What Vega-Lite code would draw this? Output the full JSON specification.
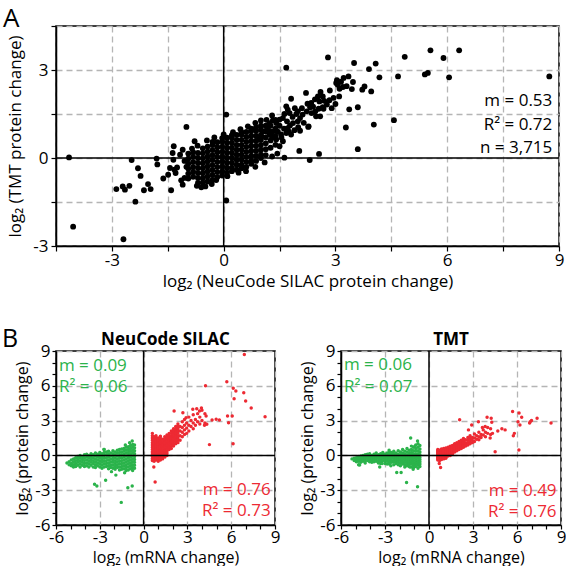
{
"$schema":"https://vega.github.io/schema/vega-lite/v6.json",
"background":"white",
"padding":{"left":2,"top":5,"right":0,"bottom":0},
"config":{
 "font":"Open Sans",
 "view":{"stroke":"black","strokeWidth":1.5},
 "axis":{"domainColor":"black","domainWidth":1.5,"tickColor":"black","tickWidth":1.2,"tickSize":4,"labelColor":"black","titleColor":"black","titleFontWeight":"normal","gridColor":"#b5b5b5","gridDash":[6,4],"gridWidth":1.3,"labelOverlap":false,"labelFlush":false},
 "title":{"color":"black"}
},
"datasets":{
"prot":[
{"silac":-4.15,"tmt":0.02},{"silac":-4.04,"tmt":-2.34},{"silac":-2.69,"tmt":-2.77},{"silac":-2.88,"tmt":-1.06},{"silac":-2.71,"tmt":-0.97},{"silac":-2.65,"tmt":-1.08},{"silac":-2.53,"tmt":-0.95},{"silac":-2.47,"tmt":-0.07},{"silac":-2.37,"tmt":-1.49},{"silac":-2.3,"tmt":-0.35},{"silac":-2.23,"tmt":-0.61},{"silac":-2.14,"tmt":-1.1},{"silac":-2.03,"tmt":-0.89},{"silac":-1.96,"tmt":-1.06},{"silac":-1.8,"tmt":-0.02},{"silac":-1.78,"tmt":-0.22},{"silac":-1.62,"tmt":-0.7},{"silac":-1.49,"tmt":-0.57},{"silac":-1.41,"tmt":-1.1},{"silac":-1.34,"tmt":0.4},{"silac":-1.37,"tmt":0.17},{"silac":-1.0,"tmt":1.06},{"silac":-0.78,"tmt":0.57},{"silac":0.07,"tmt":1.48},{"silac":0.07,"tmt":-1.45},{"silac":-0.49,"tmt":-0.97},{"silac":-0.32,"tmt":-0.89},
{"silac":-1.25,"tmt":-0.32},{"silac":-1.29,"tmt":-0.51},{"silac":-1.14,"tmt":-0.76},{"silac":-1.1,"tmt":-0.91},{"silac":-1.05,"tmt":-0.68},{"silac":-1.32,"tmt":-0.4},{"silac":-1.1,"tmt":0.28},{"silac":-1.17,"tmt":0.11},{"silac":-1.35,"tmt":-0.06},{"silac":-1.44,"tmt":-0.34},{"silac":-0.72,"tmt":-0.95},{"silac":-0.6,"tmt":-1.0},{"silac":-0.2,"tmt":-0.75},{"silac":0.1,"tmt":-0.62},{"silac":0.4,"tmt":-0.5},{"silac":-1.0,"tmt":-0.3},{"silac":-1.05,"tmt":-0.1},{"silac":-0.95,"tmt":0.15},{"silac":-0.85,"tmt":0.32},{"silac":-0.7,"tmt":0.42},{"silac":-0.45,"tmt":0.6},{"silac":-0.25,"tmt":0.7},{"silac":0.0,"tmt":0.8},{"silac":0.25,"tmt":0.88},{"silac":0.45,"tmt":0.98},{"silac":0.65,"tmt":1.08},{"silac":0.85,"tmt":1.2},{"silac":1.0,"tmt":1.28},{"silac":0.6,"tmt":-0.45},{"silac":0.85,"tmt":-0.3},{"silac":1.1,"tmt":-0.15},{"silac":1.3,"tmt":0.05},
{"silac":-0.95,"tmt":-0.7},{"silac":-0.95,"tmt":-0.53},{"silac":-0.95,"tmt":-0.36},{"silac":-0.95,"tmt":-0.19},{"silac":-0.95,"tmt":-0.02},
{"silac":-0.82,"tmt":-0.64},{"silac":-0.82,"tmt":-0.47},{"silac":-0.82,"tmt":-0.3},{"silac":-0.82,"tmt":-0.13},{"silac":-0.82,"tmt":0.04},{"silac":-0.82,"tmt":0.2},
{"silac":-0.69,"tmt":-0.85},{"silac":-0.69,"tmt":-0.68},{"silac":-0.69,"tmt":-0.51},{"silac":-0.69,"tmt":-0.34},{"silac":-0.69,"tmt":-0.17},{"silac":-0.69,"tmt":0.0},{"silac":-0.69,"tmt":0.17},
{"silac":-0.56,"tmt":-0.84},{"silac":-0.56,"tmt":-0.69},{"silac":-0.56,"tmt":-0.52},{"silac":-0.56,"tmt":-0.35},{"silac":-0.56,"tmt":-0.18},{"silac":-0.56,"tmt":-0.01},{"silac":-0.56,"tmt":0.16},{"silac":-0.56,"tmt":0.33},
{"silac":-0.43,"tmt":-0.8},{"silac":-0.43,"tmt":-0.63},{"silac":-0.43,"tmt":-0.46},{"silac":-0.43,"tmt":-0.29},{"silac":-0.43,"tmt":-0.12},{"silac":-0.43,"tmt":0.05},{"silac":-0.43,"tmt":0.22},{"silac":-0.43,"tmt":0.39},
{"silac":-0.3,"tmt":-0.75},{"silac":-0.3,"tmt":-0.58},{"silac":-0.3,"tmt":-0.41},{"silac":-0.3,"tmt":-0.24},{"silac":-0.3,"tmt":-0.07},{"silac":-0.3,"tmt":0.1},{"silac":-0.3,"tmt":0.27},{"silac":-0.3,"tmt":0.44},{"silac":-0.3,"tmt":0.55},
{"silac":-0.17,"tmt":-0.65},{"silac":-0.17,"tmt":-0.48},{"silac":-0.17,"tmt":-0.31},{"silac":-0.17,"tmt":-0.14},{"silac":-0.17,"tmt":0.03},{"silac":-0.17,"tmt":0.2},{"silac":-0.17,"tmt":0.37},{"silac":-0.17,"tmt":0.54},
{"silac":-0.04,"tmt":-0.6},{"silac":-0.04,"tmt":-0.46},{"silac":-0.04,"tmt":-0.29},{"silac":-0.04,"tmt":-0.12},{"silac":-0.04,"tmt":0.05},{"silac":-0.04,"tmt":0.22},{"silac":-0.04,"tmt":0.39},{"silac":-0.04,"tmt":0.56},{"silac":-0.04,"tmt":0.68},
{"silac":0.09,"tmt":-0.5},{"silac":0.09,"tmt":-0.33},{"silac":0.09,"tmt":-0.16},{"silac":0.09,"tmt":0.01},{"silac":0.09,"tmt":0.18},{"silac":0.09,"tmt":0.35},{"silac":0.09,"tmt":0.52},{"silac":0.09,"tmt":0.69},
{"silac":0.22,"tmt":-0.45},{"silac":0.22,"tmt":-0.33},{"silac":0.22,"tmt":-0.16},{"silac":0.22,"tmt":0.01},{"silac":0.22,"tmt":0.18},{"silac":0.22,"tmt":0.35},{"silac":0.22,"tmt":0.52},{"silac":0.22,"tmt":0.69},{"silac":0.22,"tmt":0.78},
{"silac":0.35,"tmt":-0.4},{"silac":0.35,"tmt":-0.23},{"silac":0.35,"tmt":-0.06},{"silac":0.35,"tmt":0.11},{"silac":0.35,"tmt":0.28},{"silac":0.35,"tmt":0.45},{"silac":0.35,"tmt":0.62},{"silac":0.35,"tmt":0.79},
{"silac":0.48,"tmt":-0.35},{"silac":0.48,"tmt":-0.23},{"silac":0.48,"tmt":-0.06},{"silac":0.48,"tmt":0.11},{"silac":0.48,"tmt":0.28},{"silac":0.48,"tmt":0.45},{"silac":0.48,"tmt":0.62},{"silac":0.48,"tmt":0.79},{"silac":0.48,"tmt":0.88},
{"silac":0.61,"tmt":-0.3},{"silac":0.61,"tmt":-0.13},{"silac":0.61,"tmt":0.04},{"silac":0.61,"tmt":0.21},{"silac":0.61,"tmt":0.38},{"silac":0.61,"tmt":0.55},{"silac":0.61,"tmt":0.72},{"silac":0.61,"tmt":0.89},
{"silac":0.74,"tmt":-0.2},{"silac":0.74,"tmt":-0.09},{"silac":0.74,"tmt":0.08},{"silac":0.74,"tmt":0.25},{"silac":0.74,"tmt":0.42},{"silac":0.74,"tmt":0.59},{"silac":0.74,"tmt":0.76},{"silac":0.74,"tmt":0.93},{"silac":0.74,"tmt":1.0},
{"silac":0.87,"tmt":-0.1},{"silac":0.87,"tmt":0.07},{"silac":0.87,"tmt":0.24},{"silac":0.87,"tmt":0.41},{"silac":0.87,"tmt":0.58},{"silac":0.87,"tmt":0.75},{"silac":0.87,"tmt":0.92},{"silac":0.87,"tmt":1.05},
{"silac":1.0,"tmt":0.0},{"silac":1.0,"tmt":0.11},{"silac":1.0,"tmt":0.28},{"silac":1.0,"tmt":0.45},{"silac":1.0,"tmt":0.62},{"silac":1.0,"tmt":0.79},{"silac":1.0,"tmt":0.96},{"silac":1.0,"tmt":1.1},
{"silac":1.13,"tmt":0.1},{"silac":1.13,"tmt":0.3},{"silac":1.13,"tmt":0.5},{"silac":1.13,"tmt":0.7},{"silac":1.13,"tmt":0.9},{"silac":1.13,"tmt":1.1},
{"silac":1.26,"tmt":0.35},{"silac":1.26,"tmt":0.6},{"silac":1.26,"tmt":0.85},{"silac":1.26,"tmt":1.1},
{"silac":1.39,"tmt":0.45},{"silac":1.39,"tmt":0.75},{"silac":1.39,"tmt":1.0},{"silac":1.39,"tmt":1.3},
{"silac":3.35,"tmt":2.78},{"silac":3.22,"tmt":2.73},{"silac":3.04,"tmt":2.65},{"silac":3.06,"tmt":2.5},{"silac":3.2,"tmt":2.42},{"silac":3.11,"tmt":2.36},{"silac":3.47,"tmt":2.59},{"silac":3.44,"tmt":2.35},{"silac":3.37,"tmt":1.66},{"silac":3.6,"tmt":1.73},{"silac":3.78,"tmt":2.44},{"silac":3.72,"tmt":2.33},{"silac":3.96,"tmt":2.27},{"silac":2.95,"tmt":2.05},{"silac":3.0,"tmt":1.84},{"silac":2.77,"tmt":1.82},{"silac":2.84,"tmt":1.97},{"silac":2.66,"tmt":2.1},{"silac":2.57,"tmt":1.93},{"silac":2.66,"tmt":1.73},{"silac":2.55,"tmt":1.68},{"silac":2.46,"tmt":1.59},{"silac":2.32,"tmt":1.73},{"silac":2.21,"tmt":2.22},{"silac":2.48,"tmt":1.42},{"silac":2.36,"tmt":1.53},{"silac":2.23,"tmt":1.59},{"silac":2.12,"tmt":1.48},{"silac":2.05,"tmt":1.36},{"silac":1.99,"tmt":1.25},{"silac":2.05,"tmt":0.93},{"silac":1.81,"tmt":2.02},{"silac":1.68,"tmt":1.76},{"silac":1.72,"tmt":1.65},{"silac":1.63,"tmt":1.5},{"silac":1.59,"tmt":1.36},{"silac":1.5,"tmt":1.31},{"silac":1.41,"tmt":1.19},{"silac":1.32,"tmt":1.28},{"silac":1.23,"tmt":1.19},{"silac":1.14,"tmt":1.08},{"silac":1.99,"tmt":1.59},{"silac":1.91,"tmt":1.7},{"silac":1.77,"tmt":1.53},{"silac":1.86,"tmt":1.19},{"silac":1.78,"tmt":1.11},{"silac":1.72,"tmt":1.02},{"silac":1.68,"tmt":0.85},{"silac":1.81,"tmt":0.8},{"silac":1.54,"tmt":0.8},{"silac":1.5,"tmt":0.4},{"silac":1.59,"tmt":0.57},{"silac":1.41,"tmt":0.63},{"silac":1.32,"tmt":0.91},{"silac":1.23,"tmt":0.8},{"silac":1.05,"tmt":0.91},{"silac":1.01,"tmt":0.74},{"silac":0.92,"tmt":0.63},{"silac":2.28,"tmt":1.08},{"silac":2.59,"tmt":1.42},{"silac":2.68,"tmt":1.68},{"silac":2.35,"tmt":1.88},{"silac":2.53,"tmt":2.1},{"silac":3.02,"tmt":2.56},
{"silac":1.2,"tmt":0.95},{"silac":1.3,"tmt":0.7},{"silac":1.45,"tmt":0.9},{"silac":1.5,"tmt":1.1},{"silac":1.55,"tmt":0.7},{"silac":1.62,"tmt":1.0},{"silac":1.7,"tmt":1.25},{"silac":1.75,"tmt":0.9},{"silac":1.85,"tmt":1.4},{"silac":1.9,"tmt":0.95},{"silac":1.95,"tmt":1.5},{"silac":2.1,"tmt":1.7},{"silac":2.15,"tmt":1.2},{"silac":2.25,"tmt":1.85},{"silac":2.4,"tmt":1.75},{"silac":2.45,"tmt":2.0},{"silac":2.6,"tmt":2.25},{"silac":2.7,"tmt":1.95},{"silac":2.85,"tmt":2.3},{"silac":2.9,"tmt":1.7},{"silac":3.1,"tmt":2.1},{"silac":3.15,"tmt":2.6},{"silac":3.3,"tmt":2.45},{"silac":2.0,"tmt":1.05},{"silac":1.3,"tmt":1.45},{"silac":1.15,"tmt":1.3},
{"silac":1.68,"tmt":3.08},{"silac":2.8,"tmt":3.43},{"silac":3.5,"tmt":3.24},{"silac":3.9,"tmt":3.03},{"silac":4.08,"tmt":3.22},{"silac":4.18,"tmt":2.75},{"silac":4.68,"tmt":2.78},{"silac":4.86,"tmt":3.45},{"silac":5.4,"tmt":2.85},{"silac":5.48,"tmt":2.9},{"silac":5.55,"tmt":3.67},{"silac":5.9,"tmt":3.41},{"silac":6.05,"tmt":2.75},{"silac":6.32,"tmt":3.67},{"silac":8.74,"tmt":2.78},{"silac":4.57,"tmt":1.29},{"silac":4.03,"tmt":1.14},{"silac":3.28,"tmt":1.04},{"silac":3.6,"tmt":0.3},{"silac":2.56,"tmt":0.14},{"silac":2.31,"tmt":-0.07},{"silac":2.03,"tmt":0.24},{"silac":1.63,"tmt":0.01},{"silac":2.27,"tmt":1.06},{"silac":1.44,"tmt":0.15}
],
"annA":[{"label":"m = 0.53","ax":8.82,"ay":1.93},{"label":"R² = 0.72","ax":8.82,"ay":1.11},{"label":"n = 3,715","ax":8.82,"ay":0.35}],
"annB":[
{"panel":"NeuCode SILAC","g":"down","label":"m = 0.09","ax":-5.8,"ay":7.7},{"panel":"NeuCode SILAC","g":"down","label":"R² = 0.06","ax":-5.8,"ay":5.9},{"panel":"NeuCode SILAC","g":"up","label":"m = 0.76","ax":8.7,"ay":-3.0},{"panel":"NeuCode SILAC","g":"up","label":"R² = 0.73","ax":8.7,"ay":-4.8},
{"panel":"TMT","g":"down","label":"m = 0.06","ax":-5.8,"ay":7.76},{"panel":"TMT","g":"down","label":"R² = 0.07","ax":-5.8,"ay":5.88},{"panel":"TMT","g":"up","label":"m = 0.49","ax":8.7,"ay":-3.06},{"panel":"TMT","g":"up","label":"R² = 0.76","ax":8.7,"ay":-4.85}
],
"genes":[
{"g":"down","mrna":-5.25,"silac":-0.65,"tmt":-0.3},
{"g":"down","mrna":-5.1,"silac":-0.55,"tmt":-0.25},{"g":"down","mrna":-5.1,"silac":-0.8,"tmt":-0.45},
{"g":"down","mrna":-4.95,"silac":-0.4,"tmt":-0.2},{"g":"down","mrna":-4.95,"silac":-0.7,"tmt":-0.4},{"g":"down","mrna":-4.95,"silac":-0.9,"tmt":-0.55},
{"g":"down","mrna":-4.8,"silac":-0.3,"tmt":-0.1},{"g":"down","mrna":-4.8,"silac":-0.55,"tmt":-0.3},{"g":"down","mrna":-4.8,"silac":-0.8,"tmt":-0.5},{"g":"down","mrna":-4.8,"silac":-1.0,"tmt":-0.8},
{"g":"down","mrna":-4.65,"silac":-0.2,"tmt":-0.05},{"g":"down","mrna":-4.65,"silac":-0.45,"tmt":-0.25},{"g":"down","mrna":-4.65,"silac":-0.7,"tmt":-0.4},{"g":"down","mrna":-4.65,"silac":-0.95,"tmt":-0.6},
{"g":"down","mrna":-4.5,"silac":-0.1,"tmt":0.0},{"g":"down","mrna":-4.5,"silac":-0.35,"tmt":-0.2},{"g":"down","mrna":-4.5,"silac":-0.6,"tmt":-0.35},{"g":"down","mrna":-4.5,"silac":-0.85,"tmt":-0.5},
{"g":"down","mrna":-4.35,"silac":0.0,"tmt":0.05},{"g":"down","mrna":-4.35,"silac":-0.25,"tmt":-0.1},{"g":"down","mrna":-4.35,"silac":-0.5,"tmt":-0.3},{"g":"down","mrna":-4.35,"silac":-0.75,"tmt":-0.45},{"g":"down","mrna":-4.35,"silac":-1.0,"tmt":-0.65},
{"g":"down","mrna":-4.2,"silac":-0.1,"tmt":0.1},{"g":"down","mrna":-4.2,"silac":-0.35,"tmt":-0.05},{"g":"down","mrna":-4.2,"silac":-0.6,"tmt":-0.25},{"g":"down","mrna":-4.2,"silac":-0.85,"tmt":-0.45},
{"g":"down","mrna":-4.05,"silac":0.05,"tmt":0.15},{"g":"down","mrna":-4.05,"silac":-0.2,"tmt":-0.05},{"g":"down","mrna":-4.05,"silac":-0.45,"tmt":-0.2},{"g":"down","mrna":-4.05,"silac":-0.7,"tmt":-0.35},{"g":"down","mrna":-4.05,"silac":-0.95,"tmt":-0.55},
{"g":"down","mrna":-3.9,"silac":0.1,"tmt":0.0},{"g":"down","mrna":-3.9,"silac":-0.15,"tmt":-0.15},{"g":"down","mrna":-3.9,"silac":-0.4,"tmt":-0.3},{"g":"down","mrna":-3.9,"silac":-0.65,"tmt":-0.45},{"g":"down","mrna":-3.9,"silac":-0.9,"tmt":-0.6},
{"g":"down","mrna":-3.75,"silac":0.0,"tmt":0.1},{"g":"down","mrna":-3.75,"silac":-0.25,"tmt":-0.05},{"g":"down","mrna":-3.75,"silac":-0.5,"tmt":-0.2},{"g":"down","mrna":-3.75,"silac":-0.75,"tmt":-0.4},{"g":"down","mrna":-3.75,"silac":-1.0,"tmt":-0.55},
{"g":"down","mrna":-3.6,"silac":0.15,"tmt":0.2},{"g":"down","mrna":-3.6,"silac":-0.1,"tmt":0.0},{"g":"down","mrna":-3.6,"silac":-0.35,"tmt":-0.15},{"g":"down","mrna":-3.6,"silac":-0.6,"tmt":-0.3},{"g":"down","mrna":-3.6,"silac":-0.85,"tmt":-0.5},
{"g":"down","mrna":-3.45,"silac":0.05,"tmt":0.05},{"g":"down","mrna":-3.45,"silac":-0.2,"tmt":-0.1},{"g":"down","mrna":-3.45,"silac":-0.45,"tmt":-0.25},{"g":"down","mrna":-3.45,"silac":-0.7,"tmt":-0.45},{"g":"down","mrna":-3.45,"silac":-1.0,"tmt":-0.65},
{"g":"down","mrna":-3.3,"silac":0.2,"tmt":0.15},{"g":"down","mrna":-3.3,"silac":-0.05,"tmt":0.0},{"g":"down","mrna":-3.3,"silac":-0.3,"tmt":-0.15},{"g":"down","mrna":-3.3,"silac":-0.55,"tmt":-0.3},{"g":"down","mrna":-3.3,"silac":-0.8,"tmt":-0.5},{"g":"down","mrna":-3.3,"silac":-1.05,"tmt":-0.7},
{"g":"down","mrna":-3.15,"silac":0.1,"tmt":0.25},{"g":"down","mrna":-3.15,"silac":-0.15,"tmt":0.05},{"g":"down","mrna":-3.15,"silac":-0.4,"tmt":-0.1},{"g":"down","mrna":-3.15,"silac":-0.65,"tmt":-0.25},{"g":"down","mrna":-3.15,"silac":-0.9,"tmt":-0.45},
{"g":"down","mrna":-3.0,"silac":0.25,"tmt":0.1},{"g":"down","mrna":-3.0,"silac":0.0,"tmt":-0.05},{"g":"down","mrna":-3.0,"silac":-0.25,"tmt":-0.2},{"g":"down","mrna":-3.0,"silac":-0.5,"tmt":-0.35},{"g":"down","mrna":-3.0,"silac":-0.75,"tmt":-0.5},{"g":"down","mrna":-3.0,"silac":-1.0,"tmt":-0.7},
{"g":"down","mrna":-2.85,"silac":0.15,"tmt":0.2},{"g":"down","mrna":-2.85,"silac":-0.1,"tmt":0.0},{"g":"down","mrna":-2.85,"silac":-0.35,"tmt":-0.15},{"g":"down","mrna":-2.85,"silac":-0.6,"tmt":-0.3},{"g":"down","mrna":-2.85,"silac":-0.85,"tmt":-0.5},{"g":"down","mrna":-2.85,"silac":-1.1,"tmt":-0.75},
{"g":"down","mrna":-2.7,"silac":0.5,"tmt":0.3},{"g":"down","mrna":-2.7,"silac":0.25,"tmt":0.1},{"g":"down","mrna":-2.7,"silac":0.0,"tmt":-0.05},{"g":"down","mrna":-2.7,"silac":-0.25,"tmt":-0.2},{"g":"down","mrna":-2.7,"silac":-0.5,"tmt":-0.35},{"g":"down","mrna":-2.7,"silac":-0.75,"tmt":-0.55},{"g":"down","mrna":-2.7,"silac":-1.0,"tmt":-0.75},
{"g":"down","mrna":-2.55,"silac":0.3,"tmt":0.25},{"g":"down","mrna":-2.55,"silac":0.05,"tmt":0.05},{"g":"down","mrna":-2.55,"silac":-0.2,"tmt":-0.1},{"g":"down","mrna":-2.55,"silac":-0.45,"tmt":-0.25},{"g":"down","mrna":-2.55,"silac":-0.7,"tmt":-0.45},{"g":"down","mrna":-2.55,"silac":-0.95,"tmt":-0.6},
{"g":"down","mrna":-2.4,"silac":0.35,"tmt":0.35},{"g":"down","mrna":-2.4,"silac":0.1,"tmt":0.15},{"g":"down","mrna":-2.4,"silac":-0.15,"tmt":-0.05},{"g":"down","mrna":-2.4,"silac":-0.4,"tmt":-0.2},{"g":"down","mrna":-2.4,"silac":-0.65,"tmt":-0.4},{"g":"down","mrna":-2.4,"silac":-0.9,"tmt":-0.55},{"g":"down","mrna":-2.4,"silac":-1.15,"tmt":-0.8},
{"g":"down","mrna":-2.25,"silac":0.2,"tmt":0.2},{"g":"down","mrna":-2.25,"silac":-0.05,"tmt":0.0},{"g":"down","mrna":-2.25,"silac":-0.3,"tmt":-0.15},{"g":"down","mrna":-2.25,"silac":-0.55,"tmt":-0.3},{"g":"down","mrna":-2.25,"silac":-0.8,"tmt":-0.5},{"g":"down","mrna":-2.25,"silac":-1.05,"tmt":-0.7},
{"g":"down","mrna":-2.1,"silac":0.4,"tmt":0.4},{"g":"down","mrna":-2.1,"silac":0.15,"tmt":0.1},{"g":"down","mrna":-2.1,"silac":-0.1,"tmt":-0.05},{"g":"down","mrna":-2.1,"silac":-0.35,"tmt":-0.25},{"g":"down","mrna":-2.1,"silac":-0.6,"tmt":-0.4},{"g":"down","mrna":-2.1,"silac":-0.85,"tmt":-0.6},{"g":"down","mrna":-2.1,"silac":-1.1,"tmt":-0.8},
{"g":"down","mrna":-1.95,"silac":0.3,"tmt":0.3},{"g":"down","mrna":-1.95,"silac":0.05,"tmt":0.05},{"g":"down","mrna":-1.95,"silac":-0.2,"tmt":-0.1},{"g":"down","mrna":-1.95,"silac":-0.45,"tmt":-0.3},{"g":"down","mrna":-1.95,"silac":-0.7,"tmt":-0.45},{"g":"down","mrna":-1.95,"silac":-0.95,"tmt":-0.65},{"g":"down","mrna":-1.95,"silac":-1.2,"tmt":-0.9},
{"g":"down","mrna":-1.8,"silac":0.45,"tmt":0.5},{"g":"down","mrna":-1.8,"silac":0.2,"tmt":0.2},{"g":"down","mrna":-1.8,"silac":-0.05,"tmt":0.0},{"g":"down","mrna":-1.8,"silac":-0.3,"tmt":-0.2},{"g":"down","mrna":-1.8,"silac":-0.55,"tmt":-0.35},{"g":"down","mrna":-1.8,"silac":-0.8,"tmt":-0.55},{"g":"down","mrna":-1.8,"silac":-1.05,"tmt":-0.75},
{"g":"down","mrna":-1.65,"silac":0.5,"tmt":0.35},{"g":"down","mrna":-1.65,"silac":0.25,"tmt":0.1},{"g":"down","mrna":-1.65,"silac":0.0,"tmt":-0.1},{"g":"down","mrna":-1.65,"silac":-0.25,"tmt":-0.25},{"g":"down","mrna":-1.65,"silac":-0.5,"tmt":-0.4},{"g":"down","mrna":-1.65,"silac":-0.75,"tmt":-0.6},{"g":"down","mrna":-1.65,"silac":-1.0,"tmt":-0.8},{"g":"down","mrna":-1.65,"silac":-1.25,"tmt":-1.0},
{"g":"down","mrna":-1.5,"silac":0.55,"tmt":0.6},{"g":"down","mrna":-1.5,"silac":0.3,"tmt":0.3},{"g":"down","mrna":-1.5,"silac":0.05,"tmt":0.05},{"g":"down","mrna":-1.5,"silac":-0.2,"tmt":-0.15},{"g":"down","mrna":-1.5,"silac":-0.45,"tmt":-0.3},{"g":"down","mrna":-1.5,"silac":-0.7,"tmt":-0.5},{"g":"down","mrna":-1.5,"silac":-0.95,"tmt":-0.7},{"g":"down","mrna":-1.5,"silac":-1.2,"tmt":-0.9},
{"g":"down","mrna":-1.35,"silac":0.6,"tmt":0.45},{"g":"down","mrna":-1.35,"silac":0.35,"tmt":0.2},{"g":"down","mrna":-1.35,"silac":0.1,"tmt":0.0},{"g":"down","mrna":-1.35,"silac":-0.15,"tmt":-0.2},{"g":"down","mrna":-1.35,"silac":-0.4,"tmt":-0.35},{"g":"down","mrna":-1.35,"silac":-0.65,"tmt":-0.55},{"g":"down","mrna":-1.35,"silac":-0.9,"tmt":-0.75},{"g":"down","mrna":-1.35,"silac":-1.15,"tmt":-0.95},
{"g":"down","mrna":-1.2,"silac":0.7,"tmt":0.8},{"g":"down","mrna":-1.2,"silac":0.45,"tmt":0.5},{"g":"down","mrna":-1.2,"silac":0.2,"tmt":0.25},{"g":"down","mrna":-1.2,"silac":-0.05,"tmt":0.05},{"g":"down","mrna":-1.2,"silac":-0.3,"tmt":-0.15},{"g":"down","mrna":-1.2,"silac":-0.55,"tmt":-0.35},{"g":"down","mrna":-1.2,"silac":-0.8,"tmt":-0.55},{"g":"down","mrna":-1.2,"silac":-1.05,"tmt":-0.75},{"g":"down","mrna":-1.2,"silac":-1.3,"tmt":-1.0},
{"g":"down","mrna":-1.05,"silac":0.75,"tmt":0.7},{"g":"down","mrna":-1.05,"silac":0.5,"tmt":0.4},{"g":"down","mrna":-1.05,"silac":0.25,"tmt":0.15},{"g":"down","mrna":-1.05,"silac":0.0,"tmt":-0.05},{"g":"down","mrna":-1.05,"silac":-0.25,"tmt":-0.25},{"g":"down","mrna":-1.05,"silac":-0.5,"tmt":-0.45},{"g":"down","mrna":-1.05,"silac":-0.75,"tmt":-0.65},{"g":"down","mrna":-1.05,"silac":-1.0,"tmt":-0.85},{"g":"down","mrna":-1.05,"silac":-1.25,"tmt":-1.05},
{"g":"down","mrna":-0.9,"silac":0.85,"tmt":0.9},{"g":"down","mrna":-0.9,"silac":0.6,"tmt":0.6},{"g":"down","mrna":-0.9,"silac":0.35,"tmt":0.35},{"g":"down","mrna":-0.9,"silac":0.1,"tmt":0.1},{"g":"down","mrna":-0.9,"silac":-0.15,"tmt":-0.1},{"g":"down","mrna":-0.9,"silac":-0.4,"tmt":-0.3},{"g":"down","mrna":-0.9,"silac":-0.65,"tmt":-0.5},{"g":"down","mrna":-0.9,"silac":-0.9,"tmt":-0.7},{"g":"down","mrna":-0.9,"silac":-1.15,"tmt":-0.95},
{"g":"down","mrna":-0.75,"silac":0.95,"tmt":1.0},{"g":"down","mrna":-0.75,"silac":0.7,"tmt":0.7},{"g":"down","mrna":-0.75,"silac":0.45,"tmt":0.4},{"g":"down","mrna":-0.75,"silac":0.2,"tmt":0.15},{"g":"down","mrna":-0.75,"silac":-0.05,"tmt":-0.05},{"g":"down","mrna":-0.75,"silac":-0.3,"tmt":-0.25},{"g":"down","mrna":-0.75,"silac":-0.55,"tmt":-0.45},{"g":"down","mrna":-0.75,"silac":-0.8,"tmt":-0.65},{"g":"down","mrna":-0.75,"silac":-1.05,"tmt":-0.85},{"g":"down","mrna":-0.75,"silac":-1.3,"tmt":-1.1},
{"g":"down","mrna":-0.62,"silac":0.9,"tmt":0.85},{"g":"down","mrna":-0.62,"silac":0.65,"tmt":0.55},{"g":"down","mrna":-0.62,"silac":0.4,"tmt":0.3},{"g":"down","mrna":-0.62,"silac":0.15,"tmt":0.05},{"g":"down","mrna":-0.62,"silac":-0.1,"tmt":-0.15},{"g":"down","mrna":-0.62,"silac":-0.35,"tmt":-0.35},{"g":"down","mrna":-0.62,"silac":-0.6,"tmt":-0.55},{"g":"down","mrna":-0.62,"silac":-0.85,"tmt":-0.75},{"g":"down","mrna":-0.62,"silac":-1.1,"tmt":-0.95},
{"g":"down","mrna":-3.36,"silac":-2.49,"tmt":-1.0},{"g":"down","mrna":-3.2,"silac":-2.64,"tmt":-0.7},{"g":"down","mrna":-2.6,"silac":-2.15,"tmt":-0.9},{"g":"down","mrna":-1.53,"silac":-4.05,"tmt":-2.34},{"g":"down","mrna":-1.08,"silac":-2.78,"tmt":-1.2},{"g":"down","mrna":-0.78,"silac":-2.64,"tmt":-2.71},{"g":"down","mrna":-0.78,"silac":1.24,"tmt":1.24},{"g":"down","mrna":-0.96,"silac":1.1,"tmt":0.8},{"g":"down","mrna":-1.25,"silac":0.9,"tmt":1.5},{"g":"down","mrna":-2.72,"silac":0.52,"tmt":0.45},{"g":"down","mrna":-4.73,"silac":-0.9,"tmt":-0.83},{"g":"down","mrna":-2.2,"silac":-1.4,"tmt":-1.47},{"g":"down","mrna":-1.9,"silac":-1.7,"tmt":-1.47},{"g":"down","mrna":-1.3,"silac":-1.5,"tmt":-1.0},
{"g":"up","mrna":0.6,"silac":1.9,"tmt":0.5},{"g":"up","mrna":0.6,"silac":1.5,"tmt":0.35},{"g":"up","mrna":0.6,"silac":1.1,"tmt":0.2},{"g":"up","mrna":0.6,"silac":0.7,"tmt":0.05},{"g":"up","mrna":0.6,"silac":0.3,"tmt":-0.1},{"g":"up","mrna":0.6,"silac":-0.1,"tmt":-0.25},{"g":"up","mrna":0.6,"silac":-0.45,"tmt":-0.4},
{"g":"up","mrna":0.6,"silac":1.7,"tmt":0.42},{"g":"up","mrna":0.6,"silac":1.3,"tmt":0.28},{"g":"up","mrna":0.6,"silac":0.9,"tmt":0.12},{"g":"up","mrna":0.6,"silac":0.5,"tmt":-0.02},{"g":"up","mrna":0.6,"silac":0.1,"tmt":-0.18},{"g":"up","mrna":0.6,"silac":-0.28,"tmt":-0.32},
{"g":"up","mrna":0.72,"silac":1.6,"tmt":0.45},{"g":"up","mrna":0.72,"silac":1.2,"tmt":0.3},{"g":"up","mrna":0.72,"silac":0.85,"tmt":0.15},{"g":"up","mrna":0.72,"silac":0.5,"tmt":0.0},{"g":"up","mrna":0.72,"silac":0.15,"tmt":-0.15},{"g":"up","mrna":0.72,"silac":-0.2,"tmt":-0.3},{"g":"up","mrna":0.72,"silac":-0.5,"tmt":-0.45},
{"g":"up","mrna":0.72,"silac":1.4,"tmt":0.38},{"g":"up","mrna":0.72,"silac":1.02,"tmt":0.22},{"g":"up","mrna":0.72,"silac":0.68,"tmt":0.08},{"g":"up","mrna":0.72,"silac":0.32,"tmt":-0.08},{"g":"up","mrna":0.72,"silac":-0.02,"tmt":-0.22},{"g":"up","mrna":0.72,"silac":-0.35,"tmt":-0.38},
{"g":"up","mrna":0.85,"silac":1.7,"tmt":0.55},{"g":"up","mrna":0.85,"silac":1.35,"tmt":0.4},{"g":"up","mrna":0.85,"silac":1.0,"tmt":0.25},{"g":"up","mrna":0.85,"silac":0.65,"tmt":0.1},{"g":"up","mrna":0.85,"silac":0.3,"tmt":-0.05},{"g":"up","mrna":0.85,"silac":-0.05,"tmt":-0.2},{"g":"up","mrna":0.85,"silac":-0.4,"tmt":-0.35},
{"g":"up","mrna":0.85,"silac":1.52,"tmt":0.48},{"g":"up","mrna":0.85,"silac":1.18,"tmt":0.32},{"g":"up","mrna":0.85,"silac":0.82,"tmt":0.18},{"g":"up","mrna":0.85,"silac":0.48,"tmt":0.02},{"g":"up","mrna":0.85,"silac":0.12,"tmt":-0.12},{"g":"up","mrna":0.85,"silac":-0.22,"tmt":-0.28},
{"g":"up","mrna":1.0,"silac":1.5,"tmt":0.6},{"g":"up","mrna":1.0,"silac":1.15,"tmt":0.45},{"g":"up","mrna":1.0,"silac":0.8,"tmt":0.3},{"g":"up","mrna":1.0,"silac":0.45,"tmt":0.15},{"g":"up","mrna":1.0,"silac":0.1,"tmt":0.0},{"g":"up","mrna":1.0,"silac":-0.25,"tmt":-0.15},{"g":"up","mrna":1.0,"silac":-0.5,"tmt":-0.3},
{"g":"up","mrna":1.0,"silac":1.32,"tmt":0.52},{"g":"up","mrna":1.0,"silac":0.98,"tmt":0.38},{"g":"up","mrna":1.0,"silac":0.62,"tmt":0.22},{"g":"up","mrna":1.0,"silac":0.28,"tmt":0.08},{"g":"up","mrna":1.0,"silac":-0.08,"tmt":-0.08},{"g":"up","mrna":1.0,"silac":-0.38,"tmt":-0.22},
{"g":"up","mrna":1.15,"silac":1.65,"tmt":0.65},{"g":"up","mrna":1.15,"silac":1.3,"tmt":0.5},{"g":"up","mrna":1.15,"silac":0.95,"tmt":0.35},{"g":"up","mrna":1.15,"silac":0.6,"tmt":0.2},{"g":"up","mrna":1.15,"silac":0.25,"tmt":0.05},{"g":"up","mrna":1.15,"silac":-0.1,"tmt":-0.1},{"g":"up","mrna":1.15,"silac":-0.4,"tmt":-0.25},
{"g":"up","mrna":1.15,"silac":1.48,"tmt":0.58},{"g":"up","mrna":1.15,"silac":1.12,"tmt":0.42},{"g":"up","mrna":1.15,"silac":0.78,"tmt":0.28},{"g":"up","mrna":1.15,"silac":0.42,"tmt":0.12},{"g":"up","mrna":1.15,"silac":0.08,"tmt":-0.02},{"g":"up","mrna":1.15,"silac":-0.25,"tmt":-0.18},
{"g":"up","mrna":1.3,"silac":1.4,"tmt":0.7},{"g":"up","mrna":1.3,"silac":1.05,"tmt":0.55},{"g":"up","mrna":1.3,"silac":0.7,"tmt":0.4},{"g":"up","mrna":1.3,"silac":0.35,"tmt":0.25},{"g":"up","mrna":1.3,"silac":0.0,"tmt":0.1},{"g":"up","mrna":1.3,"silac":-0.3,"tmt":-0.05},
{"g":"up","mrna":1.3,"silac":1.22,"tmt":0.62},{"g":"up","mrna":1.3,"silac":0.88,"tmt":0.48},{"g":"up","mrna":1.3,"silac":0.52,"tmt":0.32},{"g":"up","mrna":1.3,"silac":0.18,"tmt":0.18},{"g":"up","mrna":1.3,"silac":-0.15,"tmt":0.02},
{"g":"up","mrna":1.45,"silac":1.6,"tmt":0.8},{"g":"up","mrna":1.45,"silac":1.25,"tmt":0.6},{"g":"up","mrna":1.45,"silac":0.9,"tmt":0.45},{"g":"up","mrna":1.45,"silac":0.55,"tmt":0.3},{"g":"up","mrna":1.45,"silac":0.2,"tmt":0.15},{"g":"up","mrna":1.45,"silac":-0.15,"tmt":0.0},
{"g":"up","mrna":1.45,"silac":1.42,"tmt":0.7},{"g":"up","mrna":1.45,"silac":1.08,"tmt":0.52},{"g":"up","mrna":1.45,"silac":0.72,"tmt":0.38},{"g":"up","mrna":1.45,"silac":0.38,"tmt":0.22},{"g":"up","mrna":1.45,"silac":0.02,"tmt":0.08},
{"g":"up","mrna":1.6,"silac":1.75,"tmt":0.85},{"g":"up","mrna":1.6,"silac":1.4,"tmt":0.7},{"g":"up","mrna":1.6,"silac":1.05,"tmt":0.55},{"g":"up","mrna":1.6,"silac":0.7,"tmt":0.4},{"g":"up","mrna":1.6,"silac":0.35,"tmt":0.25},{"g":"up","mrna":1.6,"silac":0.0,"tmt":0.1},
{"g":"up","mrna":1.6,"silac":1.58,"tmt":0.78},{"g":"up","mrna":1.6,"silac":1.22,"tmt":0.62},{"g":"up","mrna":1.6,"silac":0.88,"tmt":0.48},{"g":"up","mrna":1.6,"silac":0.52,"tmt":0.32},{"g":"up","mrna":1.6,"silac":0.18,"tmt":0.18},
{"g":"up","mrna":1.75,"silac":1.9,"tmt":1.0},{"g":"up","mrna":1.75,"silac":1.55,"tmt":0.8},{"g":"up","mrna":1.75,"silac":1.2,"tmt":0.6},{"g":"up","mrna":1.75,"silac":0.85,"tmt":0.45},{"g":"up","mrna":1.75,"silac":0.5,"tmt":0.3},
{"g":"up","mrna":1.75,"silac":1.72,"tmt":0.9},{"g":"up","mrna":1.75,"silac":1.38,"tmt":0.7},{"g":"up","mrna":1.75,"silac":1.02,"tmt":0.52},{"g":"up","mrna":1.75,"silac":0.68,"tmt":0.38},
{"g":"up","mrna":1.9,"silac":2.1,"tmt":1.1},{"g":"up","mrna":1.9,"silac":1.7,"tmt":0.9},{"g":"up","mrna":1.9,"silac":1.35,"tmt":0.7},{"g":"up","mrna":1.9,"silac":1.0,"tmt":0.55},{"g":"up","mrna":1.9,"silac":0.6,"tmt":0.4},
{"g":"up","mrna":1.9,"silac":1.9,"tmt":1.0},{"g":"up","mrna":1.9,"silac":1.52,"tmt":0.8},{"g":"up","mrna":1.9,"silac":1.18,"tmt":0.62},{"g":"up","mrna":1.9,"silac":0.8,"tmt":0.48},
{"g":"up","mrna":2.05,"silac":2.3,"tmt":1.2},{"g":"up","mrna":2.05,"silac":1.95,"tmt":1.0},{"g":"up","mrna":2.05,"silac":1.6,"tmt":0.8},{"g":"up","mrna":2.05,"silac":1.2,"tmt":0.65},{"g":"up","mrna":2.05,"silac":0.8,"tmt":0.5},
{"g":"up","mrna":2.05,"silac":2.12,"tmt":1.1},{"g":"up","mrna":2.05,"silac":1.78,"tmt":0.9},{"g":"up","mrna":2.05,"silac":1.4,"tmt":0.72},{"g":"up","mrna":2.05,"silac":1.0,"tmt":0.58},
{"g":"up","mrna":2.2,"silac":2.5,"tmt":1.3},{"g":"up","mrna":2.2,"silac":2.1,"tmt":1.1},{"g":"up","mrna":2.2,"silac":1.75,"tmt":0.9},{"g":"up","mrna":2.2,"silac":1.4,"tmt":0.75},{"g":"up","mrna":2.2,"silac":1.0,"tmt":0.6},
{"g":"up","mrna":2.2,"silac":2.3,"tmt":1.2},{"g":"up","mrna":2.2,"silac":1.92,"tmt":1.0},{"g":"up","mrna":2.2,"silac":1.58,"tmt":0.82},{"g":"up","mrna":2.2,"silac":1.2,"tmt":0.68},
{"g":"up","mrna":2.35,"silac":2.7,"tmt":1.45},{"g":"up","mrna":2.35,"silac":2.3,"tmt":1.2},{"g":"up","mrna":2.35,"silac":1.9,"tmt":1.0},{"g":"up","mrna":2.35,"silac":1.5,"tmt":0.85},{"g":"up","mrna":2.35,"silac":1.1,"tmt":0.7},
{"g":"up","mrna":2.35,"silac":2.5,"tmt":1.32},{"g":"up","mrna":2.35,"silac":2.1,"tmt":1.1},{"g":"up","mrna":2.35,"silac":1.7,"tmt":0.92},{"g":"up","mrna":2.35,"silac":1.3,"tmt":0.78},
{"g":"up","mrna":2.5,"silac":2.5,"tmt":1.35},{"g":"up","mrna":2.5,"silac":2.1,"tmt":1.1},{"g":"up","mrna":2.5,"silac":1.7,"tmt":0.95},{"g":"up","mrna":2.5,"silac":1.3,"tmt":0.8},
{"g":"up","mrna":2.65,"silac":2.9,"tmt":1.55},{"g":"up","mrna":2.65,"silac":2.4,"tmt":1.3},{"g":"up","mrna":2.65,"silac":2.0,"tmt":1.1},{"g":"up","mrna":2.65,"silac":1.6,"tmt":0.9},
{"g":"up","mrna":2.8,"silac":3.1,"tmt":1.7},{"g":"up","mrna":2.8,"silac":2.6,"tmt":1.45},{"g":"up","mrna":2.8,"silac":2.2,"tmt":1.2},{"g":"up","mrna":2.8,"silac":1.8,"tmt":1.0},
{"g":"up","mrna":2.95,"silac":2.8,"tmt":1.55},{"g":"up","mrna":2.95,"silac":2.35,"tmt":1.3},{"g":"up","mrna":2.95,"silac":1.9,"tmt":1.1},
{"g":"up","mrna":3.1,"silac":3.3,"tmt":1.85},{"g":"up","mrna":3.1,"silac":2.6,"tmt":1.5},{"g":"up","mrna":3.1,"silac":2.1,"tmt":1.2},
{"g":"up","mrna":3.25,"silac":3.0,"tmt":1.7},{"g":"up","mrna":3.25,"silac":2.5,"tmt":1.4},
{"g":"up","mrna":3.4,"silac":3.5,"tmt":2.0},{"g":"up","mrna":3.4,"silac":2.8,"tmt":1.6},{"g":"up","mrna":3.4,"silac":2.3,"tmt":1.35},
{"g":"up","mrna":3.55,"silac":3.1,"tmt":1.8},{"g":"up","mrna":3.55,"silac":2.6,"tmt":1.55},
{"g":"up","mrna":3.7,"silac":3.6,"tmt":2.2},{"g":"up","mrna":3.7,"silac":2.9,"tmt":1.75},
{"g":"up","mrna":3.85,"silac":3.3,"tmt":2.0},{"g":"up","mrna":3.85,"silac":2.7,"tmt":1.6},
{"g":"up","mrna":4.0,"silac":3.9,"tmt":2.4},{"g":"up","mrna":4.0,"silac":3.0,"tmt":1.9},
{"g":"up","mrna":4.2,"silac":3.6,"tmt":2.3},{"g":"up","mrna":4.2,"silac":2.8,"tmt":1.8},
{"g":"up","mrna":2.09,"silac":3.83,"tmt":3.08},{"g":"up","mrna":2.69,"silac":3.68,"tmt":2.2},{"g":"up","mrna":2.91,"silac":3.25,"tmt":2.62},{"g":"up","mrna":3.37,"silac":3.97,"tmt":2.91},{"g":"up","mrna":3.64,"silac":4.03,"tmt":2.4},{"g":"up","mrna":3.96,"silac":4.09,"tmt":3.29},{"g":"up","mrna":3.83,"silac":3.83,"tmt":2.5},{"g":"up","mrna":4.28,"silac":3.4,"tmt":2.85},{"g":"up","mrna":4.33,"silac":2.68,"tmt":1.9},{"g":"up","mrna":4.69,"silac":3.05,"tmt":2.1},{"g":"up","mrna":4.97,"silac":3.11,"tmt":2.3},{"g":"up","mrna":5.19,"silac":3.05,"tmt":2.2},{"g":"up","mrna":4.17,"silac":2.59,"tmt":1.5},{"g":"up","mrna":4.51,"silac":0.93,"tmt":0.31},{"g":"up","mrna":4.24,"silac":6.0,"tmt":3.2},{"g":"up","mrna":5.7,"silac":6.35,"tmt":3.78},{"g":"up","mrna":6.14,"silac":5.78,"tmt":3.66},{"g":"up","mrna":6.32,"silac":5.55,"tmt":3.28},{"g":"up","mrna":6.2,"silac":4.89,"tmt":2.62},{"g":"up","mrna":6.86,"silac":5.41,"tmt":2.8},{"g":"up","mrna":6.99,"silac":4.69,"tmt":3.0},{"g":"up","mrna":7.37,"silac":4.09,"tmt":3.2},{"g":"up","mrna":8.32,"silac":3.34,"tmt":2.8},{"g":"up","mrna":5.75,"silac":3.4,"tmt":1.7},{"g":"up","mrna":6.07,"silac":3.4,"tmt":2.9},{"g":"up","mrna":5.82,"silac":2.82,"tmt":1.9},{"g":"up","mrna":6.13,"silac":1.0,"tmt":0.46},{"g":"up","mrna":6.9,"silac":8.7,"tmt":2.9},{"g":"up","mrna":0.79,"silac":-2.29,"tmt":-1.05},{"g":"up","mrna":0.7,"silac":-1.0,"tmt":-0.7}
]
},
"spacing":37,
"vconcat":[
{
 "width":503,"height":220,
 "title":{"text":"A","anchor":"start","frame":"group","fontSize":26,"fontWeight":"normal","dx":-53,"offset":-15},
 "layer":[
  {"data":{"name":"prot"},"mark":{"type":"point","filled":true,"size":34,"color":"black","opacity":1},
   "encoding":{
    "x":{"field":"silac","type":"quantitative","scale":{"domain":[-4.5,9],"nice":false,"zero":false},
     "axis":{"title":"log₂ (NeuCode SILAC protein change)","values":[-4.5,-3,-1.5,0,1.5,3,4.5,6,7.5,9],"tickCount":30,"labelExpr":"datum.value % 3 === 0 ? (datum.value < 0 ? '-' + abs(datum.value) : '' + datum.value) : ''","labelOverlap":false,"labelFontSize":17,"titleFontSize":17,"labelPadding":1,"titlePadding":5,"tickSize":5}},
    "y":{"field":"tmt","type":"quantitative","scale":{"domain":[-3,4.5],"nice":false,"zero":false},
     "axis":{"title":"log₂ (TMT protein change)","values":[-3,-1.5,0,1.5,3,4.5],"tickCount":30,"labelExpr":"datum.value % 3 === 0 ? (datum.value < 0 ? '-' + abs(datum.value) : '' + datum.value) : ''","labelOverlap":false,"labelFontSize":17,"titleFontSize":17,"labelPadding":3,"titlePadding":8,"tickSize":5}}
   }},
  {"data":{"values":[{}]},"mark":{"type":"rule","color":"black","strokeWidth":1.5},"encoding":{"x":{"datum":0}}},
  {"data":{"values":[{}]},"mark":{"type":"rule","color":"black","strokeWidth":1.5},"encoding":{"y":{"datum":0}}},
  {"data":{"name":"annA"},"mark":{"type":"text","align":"right","baseline":"middle","fontSize":17,"color":"black"},
   "encoding":{"x":{"field":"ax","type":"quantitative"},"y":{"field":"ay","type":"quantitative"},"text":{"field":"label"}}}
 ]
},
{
 "title":{"text":"B","anchor":"start","fontSize":25,"fontWeight":"normal","offset":-22,"dx":-12},
 "spacing":18,
 "hconcat":[
  {
   "width":219,"height":174,
   "title":{"text":"NeuCode SILAC","fontSize":17,"fontWeight":"bold","offset":0,"dy":7},
   "layer":[
    {"data":{"name":"genes"},"mark":{"type":"point","filled":true,"size":12,"opacity":1},
     "encoding":{
      "x":{"field":"mrna","type":"quantitative","scale":{"domain":[-6,9],"nice":false,"zero":false},
       "axis":{"title":"log₂ (mRNA change)","values":[-6,-5,-4,-3,-2,-1,0,1,2,3,4,5,6,7,8,9],"tickCount":30,"labelExpr":"datum.value % 3 === 0 ? (datum.value < 0 ? '-' + abs(datum.value) : '' + datum.value) : ''","labelOverlap":false,"gridOpacity":{"condition":{"test":"datum.value % 3 === 0","value":1},"value":0},"labelFontSize":17,"titleFontSize":16,"labelPadding":0,"titlePadding":4,"tickSize":4}},
      "y":{"field":"silac","type":"quantitative","scale":{"domain":[-6,9],"nice":false,"zero":false},
       "axis":{"title":"log₂ (protein change)","values":[-6,-5,-4,-3,-2,-1,0,1,2,3,4,5,6,7,8,9],"tickCount":30,"labelExpr":"datum.value % 3 === 0 ? (datum.value < 0 ? '-' + abs(datum.value) : '' + datum.value) : ''","labelOverlap":false,"gridOpacity":{"condition":{"test":"datum.value % 3 === 0","value":1},"value":0},"labelFontSize":17,"titleFontSize":16,"labelPadding":2,"titlePadding":4,"tickSize":4}},
      "color":{"field":"g","type":"nominal","scale":{"domain":["down","up"],"range":["#2bb34b","#ed2a33"]},"legend":null}
     }},
    {"data":{"values":[{}]},"mark":{"type":"rule","color":"black","strokeWidth":1.5},"encoding":{"x":{"datum":0}}},
    {"data":{"values":[{}]},"mark":{"type":"rule","color":"black","strokeWidth":1.5},"encoding":{"y":{"datum":0}}},
    {"data":{"name":"annB"},"transform":[{"filter":"datum.panel === 'NeuCode SILAC' && datum.g === 'down'"}],"mark":{"type":"text","align":"left","baseline":"middle","fontSize":17},
     "encoding":{"x":{"field":"ax","type":"quantitative"},"y":{"field":"ay","type":"quantitative"},"text":{"field":"label"},"color":{"field":"g","type":"nominal","scale":{"domain":["down","up"],"range":["#2bb34b","#ed2a33"]},"legend":null}}},
    {"data":{"name":"annB"},"transform":[{"filter":"datum.panel === 'NeuCode SILAC' && datum.g === 'up'"}],"mark":{"type":"text","align":"right","baseline":"middle","fontSize":17},
     "encoding":{"x":{"field":"ax","type":"quantitative"},"y":{"field":"ay","type":"quantitative"},"text":{"field":"label"},"color":{"field":"g","type":"nominal","scale":{"domain":["down","up"],"range":["#2bb34b","#ed2a33"]},"legend":null}}}
   ]
  },
  {
   "width":220,"height":174,
   "title":{"text":"TMT","fontSize":17,"fontWeight":"bold","offset":0,"dy":7},
   "layer":[
    {"data":{"name":"genes"},"mark":{"type":"point","filled":true,"size":12,"opacity":1},
     "encoding":{
      "x":{"field":"mrna","type":"quantitative","scale":{"domain":[-6,9],"nice":false,"zero":false},
       "axis":{"title":"log₂ (mRNA change)","values":[-6,-5,-4,-3,-2,-1,0,1,2,3,4,5,6,7,8,9],"tickCount":30,"labelExpr":"datum.value % 3 === 0 ? (datum.value < 0 ? '-' + abs(datum.value) : '' + datum.value) : ''","labelOverlap":false,"gridOpacity":{"condition":{"test":"datum.value % 3 === 0","value":1},"value":0},"labelFontSize":17,"titleFontSize":16,"labelPadding":0,"titlePadding":4,"tickSize":4}},
      "y":{"field":"tmt","type":"quantitative","scale":{"domain":[-6,9],"nice":false,"zero":false},
       "axis":{"title":"log₂ (protein change)","values":[-6,-5,-4,-3,-2,-1,0,1,2,3,4,5,6,7,8,9],"tickCount":30,"labelExpr":"datum.value % 3 === 0 ? (datum.value < 0 ? '-' + abs(datum.value) : '' + datum.value) : ''","labelOverlap":false,"gridOpacity":{"condition":{"test":"datum.value % 3 === 0","value":1},"value":0},"labelFontSize":17,"titleFontSize":16,"labelPadding":2,"titlePadding":4,"tickSize":4}},
      "color":{"field":"g","type":"nominal","scale":{"domain":["down","up"],"range":["#2bb34b","#ed2a33"]},"legend":null}
     }},
    {"data":{"values":[{}]},"mark":{"type":"rule","color":"black","strokeWidth":1.5},"encoding":{"x":{"datum":0}}},
    {"data":{"values":[{}]},"mark":{"type":"rule","color":"black","strokeWidth":1.5},"encoding":{"y":{"datum":0}}},
    {"data":{"name":"annB"},"transform":[{"filter":"datum.panel === 'TMT' && datum.g === 'down'"}],"mark":{"type":"text","align":"left","baseline":"middle","fontSize":17},
     "encoding":{"x":{"field":"ax","type":"quantitative"},"y":{"field":"ay","type":"quantitative"},"text":{"field":"label"},"color":{"field":"g","type":"nominal","scale":{"domain":["down","up"],"range":["#2bb34b","#ed2a33"]},"legend":null}}},
    {"data":{"name":"annB"},"transform":[{"filter":"datum.panel === 'TMT' && datum.g === 'up'"}],"mark":{"type":"text","align":"right","baseline":"middle","fontSize":17},
     "encoding":{"x":{"field":"ax","type":"quantitative"},"y":{"field":"ay","type":"quantitative"},"text":{"field":"label"},"color":{"field":"g","type":"nominal","scale":{"domain":["down","up"],"range":["#2bb34b","#ed2a33"]},"legend":null}}}
   ]
  }
 ]
}
]
}
